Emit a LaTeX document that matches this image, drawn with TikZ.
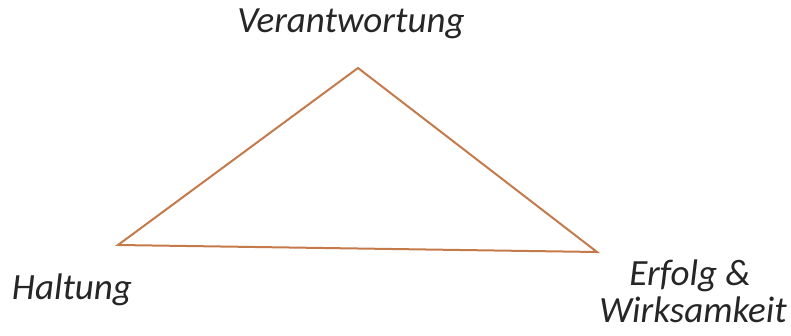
\documentclass[tikz,border=0pt]{standalone}
\usepackage{fontspec}
\setmainfont{Carlito}
\definecolor{tri}{RGB}{196,122,74}
\begin{document}
\begin{tikzpicture}[x=1pt,y=-1pt,
  lbl/.style={font=\fontsize{37}{40}\selectfont\itshape, text=black!85, inner sep=0pt, anchor=base},
  edge/.style={draw=tri, line width=2pt, line join=miter}]
\useasboundingbox (0,0) rectangle (791,336);
\coordinate (top) at (358,68);
\coordinate (left) at (118,245);
\coordinate (right) at (597,252);
\draw[edge] (top) -- (left) -- (right) -- cycle;
\node[lbl] (v) at (351,33) {Verantwortung};
\node[lbl] (h) at (72,299) {Haltung};
\node[lbl] (e) at (690,285) {Erfolg \&};
\node[lbl] (w) at (693,322) {Wirksamkeit};
\end{tikzpicture}
\end{document}
